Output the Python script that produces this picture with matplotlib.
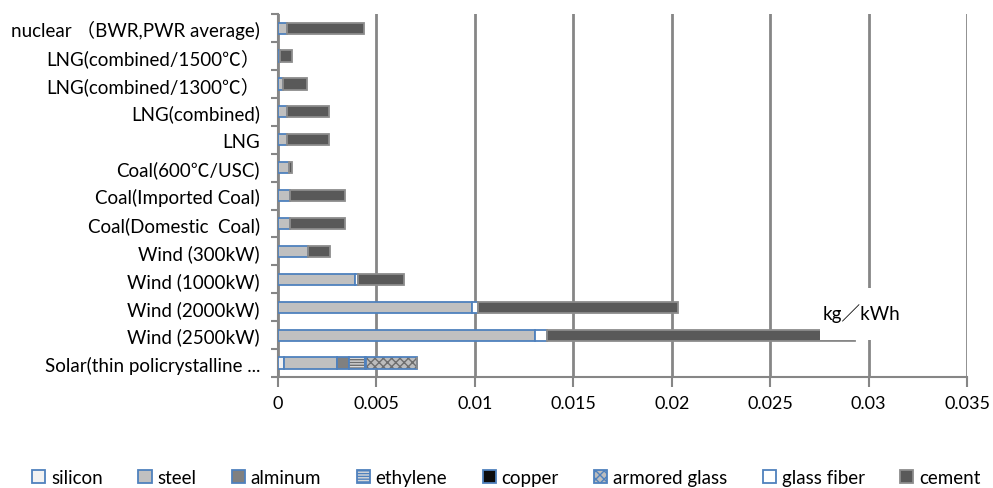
import matplotlib.pyplot as plt
import numpy as np
from matplotlib.patches import Patch, Rectangle

plt.rcParams['font.family'] = ['Lato', 'Noto Sans CJK JP', 'DejaVu Sans']

# plants, listed top to bottom
plants = [
    "nuclear （BWR,PWR average)",
    "LNG(combined/1500℃）",
    "LNG(combined/1300℃）",
    "LNG(combined)",
    "LNG",
    "Coal(600℃/USC)",
    "Coal(Imported Coal)",
    "Coal(Domestic  Coal)",
    "Wind (300kW)",
    "Wind (1000kW)",
    "Wind (2000kW)",
    "Wind (2500kW)",
    "Solar(thin policrystalline ...",
]

# material use per kWh, same order as plants
silicon = [0, 0, 0, 0, 0, 0, 0, 0, 0, 0, 0, 0, 0.0003]
steel = [0.00045, 0.0001, 0.00025, 0.00045, 0.00045, 0.00055, 0.0006, 0.0006,
         0.0015, 0.0039, 0.00985, 0.01305, 0.0027]
alminum = [0, 0, 0, 0, 0, 0, 0, 0, 0, 0, 0, 0, 0.0006]
ethylene = [0, 0, 0, 0, 0, 0, 0, 0, 0, 0, 0, 0, 0.0008]
copper = [0, 0, 0, 0, 0, 0, 0, 0, 0, 0, 0, 0, 0.00005]
armored_glass = [0, 0, 0, 0, 0, 0, 0, 0, 0, 0, 0, 0, 0.0026]
glass_fiber = [0, 0, 0, 0, 0, 0, 0, 0, 0, 0.00015, 0.0003, 0.0006, 0]
cement = [0.0039, 0.0006, 0.0012, 0.00215, 0.00215, 0.00015, 0.0028, 0.0028,
          0.00114, 0.00235, 0.01016, 0.01565, 0]

xticks = [0, 0.005, 0.01, 0.015, 0.02, 0.025, 0.03, 0.035]
xticklabels = ["0", "0.005", "0.01", "0.015", "0.02", "0.025", "0.03", "0.035"]

blue = "#4F81BD"
grid_gray = "#868686"

series = [
    ("silicon", silicon, dict(facecolor="#F2F2F2", edgecolor=blue)),
    ("steel", steel, dict(facecolor="#C0C0C0", edgecolor=blue)),
    ("alminum", alminum, dict(facecolor="#808080", edgecolor=blue)),
    ("ethylene", ethylene, dict(facecolor="#D9D9D9", edgecolor=blue, hatch="------")),
    ("copper", copper, dict(facecolor="#0D0D0D", edgecolor=blue)),
    ("armored glass", armored_glass, dict(facecolor="#BDBDBD", edgecolor=blue, hatch="xxxx")),
    ("glass fiber", glass_fiber, dict(facecolor="#FFFFFF", edgecolor=blue)),
    ("cement", cement, dict(facecolor="#595959", edgecolor="#8C8C8C")),
]

fig = plt.figure(figsize=(9.93, 4.89), dpi=100)
ax = fig.add_axes([0.28, 0.227, 0.694, 0.742])

y = np.arange(len(plants))[::-1]
left = np.zeros(len(plants))
handles = []
for name, vals, style in series:
    vals = np.array(vals)
    hatch = style.get("hatch")
    if hatch:
        # hatch lines in gray, then the blue outline on top
        ax.barh(y, vals, 0.4, left=left, facecolor=style["facecolor"],
                edgecolor="#6E6E6E", hatch=hatch, linewidth=0, zorder=3)
        ax.barh(y, vals, 0.4, left=left, facecolor="none",
                edgecolor=style["edgecolor"], linewidth=1.3, zorder=3)
    else:
        ax.barh(y, vals, 0.4, left=left, facecolor=style["facecolor"],
                edgecolor=style["edgecolor"], linewidth=1.3, zorder=3)
    handles.append(Patch(facecolor=style["facecolor"], edgecolor=style["edgecolor"],
                         hatch=hatch, linewidth=1.3, label=name))
    left += vals

ax.set_xlim(0, 0.035)
ax.set_ylim(-0.5, len(plants) - 0.5)
ax.set_xticks(xticks)
ax.set_xticklabels(xticklabels, fontsize=13)
ax.set_yticks(y)
ax.set_yticklabels(plants, fontsize=13.5)
ax.set_yticks(np.arange(len(plants) + 1) - 0.5, minor=True)
ax.tick_params(axis="y", which="major", length=0, pad=13)
ax.tick_params(axis="y", which="minor", length=5, width=1.5, color=grid_gray)
ax.tick_params(axis="x", length=7, width=1.5, color=grid_gray, pad=6)

ax.grid(axis="x", color=grid_gray, linewidth=2, zorder=0)
ax.set_axisbelow(True)
for side in ("top", "right"):
    ax.spines[side].set_visible(False)
for side in ("left", "bottom"):
    ax.spines[side].set_color(grid_gray)
    ax.spines[side].set_linewidth(1.5)

# unit label on a white box laid over the grid and the longest bar
ax.add_patch(Rectangle((0.02755, 0.83), 0.0047, 1.85, facecolor="white",
                       edgecolor="none", zorder=4))
ax.text(0.02965, 1.8, "kg／kWh", fontsize=13.5, ha="center", va="center", zorder=5)

fig.legend(handles=handles, loc="lower center", bbox_to_anchor=(0.51, -0.03),
           ncol=8, frameon=False, fontsize=13.5, handlelength=0.7,
           handleheight=0.7, handletextpad=0.3, columnspacing=1.9)

fig.savefig("out.png", dpi=100)
